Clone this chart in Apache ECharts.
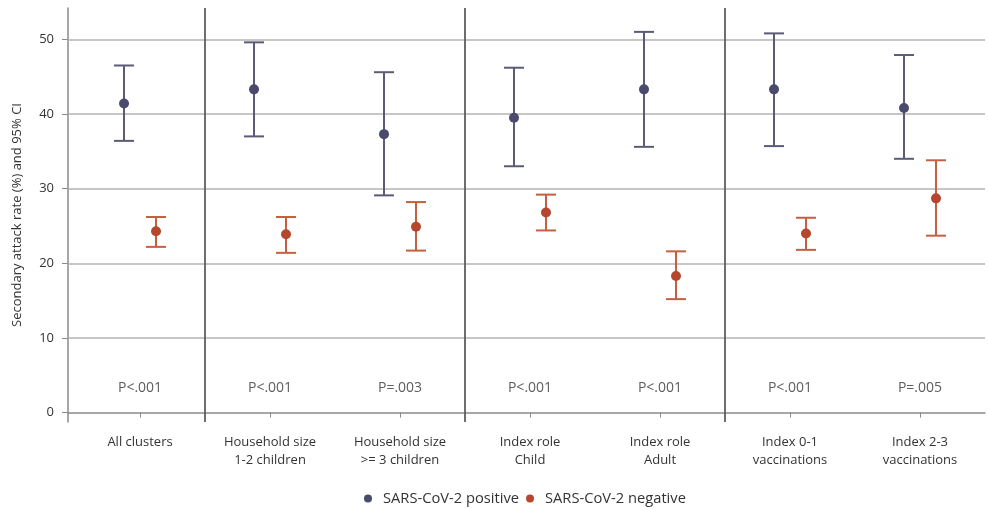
<!DOCTYPE html>
<html>
<head>
<meta charset="utf-8">
<script src="https://cdn.jsdelivr.net/npm/echarts@6/dist/echarts.min.js"></script>
<style>html,body{margin:0;padding:0;background:#fff;}#c{width:988px;height:509px;}</style>
</head>
<body>
<div id="c"></div>
<script>
const categories = ['All clusters', 'Household size\n1-2 children', 'Household size\n>= 3 children', 'Index role\nChild', 'Index role\nAdult', 'Index 0-1\nvaccinations', 'Index 2-3\nvaccinations'];
const posMean = [41.4, 43.3, 37.3, 39.5, 43.3, 43.3, 40.8];
const posLow  = [36.4, 37.0, 29.1, 33.0, 35.6, 35.7, 34.0];
const posHigh = [46.5, 49.6, 45.6, 46.2, 51.0, 50.8, 47.9];
const negMean = [24.3, 23.9, 24.9, 26.8, 18.3, 24.0, 28.7];
const negLow  = [22.2, 21.4, 21.7, 24.4, 15.2, 21.8, 23.7];
const negHigh = [26.2, 26.2, 28.2, 29.2, 21.6, 26.1, 33.8];
const pValues = ['P<.001', 'P<.001', 'P=.003', 'P<.001', 'P<.001', 'P<.001', 'P=.005'];
const yTicks = [0, 10, 20, 30, 40, 50];
const gridValues = [10, 20, 30, 40, 50];
const separators = [1.5, 3.5, 5.5];
const pLabelY = 3.3;

const FONT = '"Open Sans", sans-serif';
const TXT = '#333333';
const BLUE_DOT = '#4a4a6c', BLUE_BAR = '#5b5b78';
const RED_DOT = '#b5472e', RED_BAR = '#c4603f';

function errRender(offset, barColor, dotColor) {
  return function (params, api) {
    const x = api.value(0);
    const pLo = api.coord([x, api.value(1)]);
    const pHi = api.coord([x, api.value(2)]);
    const pM = api.coord([x, api.value(3)]);
    const cx = pLo[0] + offset;
    const hw = 10;
    const st = { stroke: barColor, lineWidth: 2 };
    return {
      type: 'group',
      children: [
        { type: 'line', shape: { x1: cx, y1: pLo[1], x2: cx, y2: pHi[1] }, style: st },
        { type: 'line', shape: { x1: cx - hw, y1: pLo[1], x2: cx + hw, y2: pLo[1] }, style: st },
        { type: 'line', shape: { x1: cx - hw, y1: pHi[1], x2: cx + hw, y2: pHi[1] }, style: st },
        { type: 'circle', shape: { cx: cx, cy: pM[1], r: 5 }, style: { fill: dotColor } }
      ]
    };
  };
}

const catIdx = categories.map((c, i) => i + 1);
const posData = categories.map((c, i) => [i + 1, posLow[i], posHigh[i], posMean[i]]);
const negData = categories.map((c, i) => [i + 1, negLow[i], negHigh[i], negMean[i]]);
const pData = categories.map((c, i) => [i + 1, pLabelY]);

const chart = echarts.init(document.getElementById('c'), null, { renderer: 'canvas' });
chart.setOption({
  animation: false,
  backgroundColor: '#ffffff',
  textStyle: { fontFamily: FONT },
  grid: { left: 68, right: 3, top: 8, bottom: 87, containLabel: false, outerBoundsMode: 'none' },
  legend: {
    top: 486,
    left: 359,
    icon: 'circle',
    itemWidth: 20,
    itemHeight: 8,
    itemGap: 7,
    textStyle: { fontFamily: FONT, fontSize: 14.7, color: TXT },
    data: [
      { name: 'SARS-CoV-2 positive', itemStyle: { color: BLUE_DOT } },
      { name: 'SARS-CoV-2 negative', itemStyle: { color: RED_DOT } }
    ]
  },
  xAxis: {
    type: 'value',
    min: 0.446,
    max: 7.5,
    axisLine: { show: true, lineStyle: { color: '#8a8a8a', width: 1.5 } },
    axisTick: { show: true, customValues: catIdx, length: 5, lineStyle: { color: '#8a8a8a' } },
    axisLabel: {
      customValues: catIdx,
      formatter: v => categories[Math.round(v) - 1] || '',
      fontFamily: FONT, fontSize: 13, color: TXT, lineHeight: 18, margin: 11
    },
    splitLine: { show: false }
  },
  yAxis: {
    type: 'value',
    min: -1.26,
    max: 54.2,
    name: 'Secondary attack rate (%) and 95% CI',
    nameLocation: 'middle',
    nameGap: 44,
    nameTextStyle: { fontFamily: FONT, fontSize: 13, color: TXT },
    axisLine: { show: true, lineStyle: { color: '#8a8a8a', width: 1.5 } },
    axisTick: { show: true, customValues: yTicks, length: 6, lineStyle: { color: '#8a8a8a' } },
    axisLabel: { customValues: yTicks, fontFamily: FONT, fontSize: 13, color: TXT, margin: 14 },
    splitLine: { show: false }
  },
  series: [
    {
      name: 'grid',
      type: 'scatter',
      data: [],
      silent: true,
      z: 1,
      markLine: {
        silent: true,
        symbol: 'none',
        label: { show: false },
        lineStyle: { color: '#b3b3b3', width: 1.5, type: 'solid' },
        data: gridValues.map(v => ({ yAxis: v }))
      }
    },
    {
      name: 'sep',
      type: 'scatter',
      data: [],
      silent: true,
      z: 2,
      markLine: {
        silent: true,
        symbol: 'none',
        label: { show: false },
        lineStyle: { color: '#5e5e5e', width: 1.8, type: 'solid' },
        data: separators.map(v => ({ xAxis: v }))
      }
    },
    {
      name: 'SARS-CoV-2 positive',
      type: 'custom',
      itemStyle: { color: BLUE_DOT },
      renderItem: errRender(-16, BLUE_BAR, BLUE_DOT),
      encode: { x: 0, y: [1, 2, 3] },
      data: posData,
      z: 5
    },
    {
      name: 'SARS-CoV-2 negative',
      type: 'custom',
      itemStyle: { color: RED_DOT },
      renderItem: errRender(16, RED_BAR, RED_DOT),
      encode: { x: 0, y: [1, 2, 3] },
      data: negData,
      z: 5
    },
    {
      name: 'pvals',
      type: 'scatter',
      symbolSize: 0,
      silent: true,
      data: pData,
      label: {
        show: true,
        position: 'inside',
        formatter: p => pValues[p.dataIndex],
        fontFamily: FONT, fontSize: 14, color: TXT
      },
      z: 6
    }
  ]
});
</script>
</body>
</html>
